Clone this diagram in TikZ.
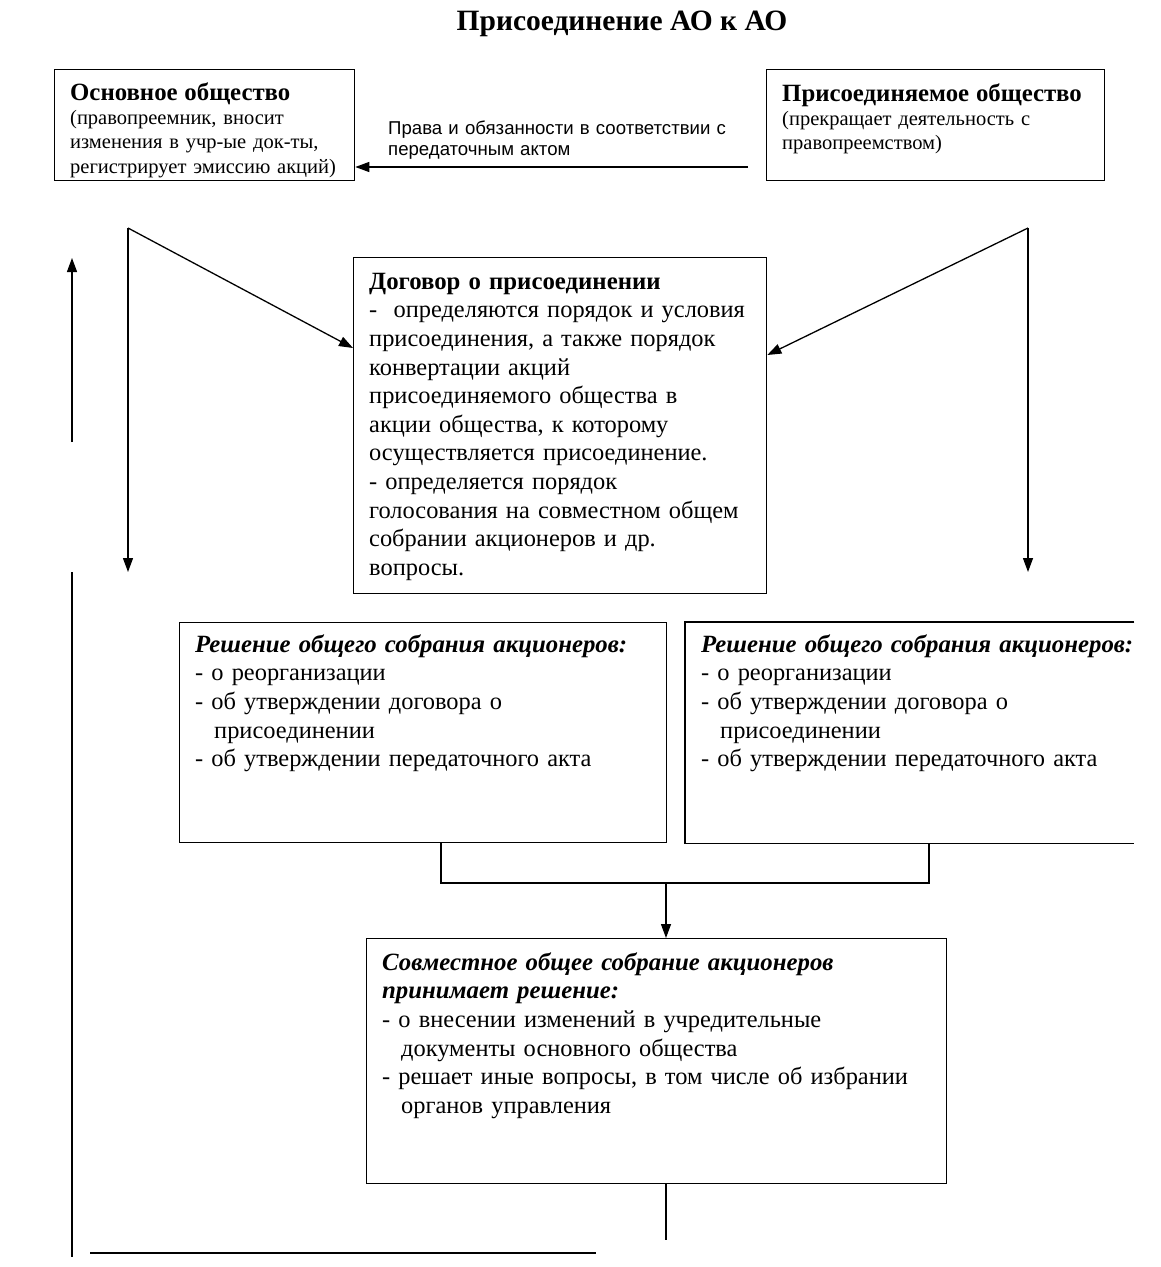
\documentclass[tikz,border=0pt]{standalone}
\usepackage{fontspec}
\setmainfont{Liberation Serif}
\setsansfont{Liberation Sans}
\usetikzlibrary{arrows.meta,calc}
\newcommand\mystrut{\rule{0pt}{20pt}}
\newcommand\hd[1]{{\fontsize{24.8}{28.6}\selectfont\bfseries #1}}
\begin{document}
\begin{tikzpicture}[x=1pt,y=-1pt,
  box/.style={draw, line width=1.3pt, inner sep=0pt, anchor=north west},
  conn/.style={line width=1.3pt},
  arr/.style={conn, -{Triangle[length=14pt,width=10pt]}},
  txt/.style={inner sep=0pt, anchor=north west, align=left, text width=#1,
    font=\fontsize{24.4}{28.6}\selectfont},
  small/.style={inner sep=0pt, anchor=north west, align=left, text width=#1,
    font=\fontsize{20.5}{24.3}\selectfont},
  lab/.style={inner sep=0pt, anchor=north west, align=left, text width=#1,
    font=\sffamily\fontsize{18.6}{21}\selectfont}
]
\useasboundingbox (0,0) rectangle (1160,1267);

% title
\node[inner sep=0pt, anchor=base, font=\bfseries\fontsize{29.5}{32}\selectfont] (title) at (622,30) {Присоединение АО к АО};

% top boxes
\node[box, minimum width=300pt, minimum height=111pt] (b1) at (54,69) {};
\node[box, minimum width=338pt, minimum height=111pt] (b2) at (766,69) {};
\begin{scope}
\clip (b1.north west) rectangle (b1.south east);
\node[small=285pt] (t1) at (70,80) {\mystrut{\fontsize{24.8}{24.3}\selectfont\bfseries Основное общество}\\
(правопреемник, вносит\\
изменения в учр-ые док-ты,\\
регистрирует эмиссию акций)};
\end{scope}
\node[small=320pt] (t2) at (782,81) {\mystrut{\fontsize{24.8}{24.3}\selectfont\bfseries Присоединяемое общество}\\
(прекращает деятельность с\\
правопреемством)};

% transfer arrow
\coordinate (a0) at (748,167);
\draw[arr] (a0) -- (a0 -| b1.east);
\node[lab=370pt] (lab1) at (388,117) {\rule{0pt}{17pt}Права и обязанности в соответствии с\\
передаточным актом};

% contract box
\node[box, minimum width=413pt, minimum height=336pt] (b3) at (353,257) {};
\node[txt=400pt] (t3) at (369,269) {\mystrut\hd{Договор о присоединении}\\
-\ \ определяются порядок и условия\\
присоединения, а также порядок\\
конвертации акций\\
присоединяемого общества в\\
акции общества, к которому\\
осуществляется присоединение.\\
- определяется порядок\\
голосования на совместном общем\\
собрании акционеров и др.\\
вопросы.};

% arrows from top
\coordinate (lt) at (128,228);
\coordinate (rt) at (1028,228);
\coordinate (ld) at (128,572);
\coordinate (rd) at (1028,572);
\draw[arr] (lt) -- ($(b3.north west)+(0,91)$);
\draw[arr] (rt) -- ($(b3.north east)+(0,98)$);
\draw[arr] (lt) -- (ld);
\draw[arr] (rt) -- (rd);

% left side lines
\coordinate (lu1) at (72,442);
\coordinate (lu2) at (72,258);
\draw[arr] (lu1) -- (lu2);
\coordinate (lv1) at (72,572);
\coordinate (lv2) at (72,1257);
\draw[conn] (lv1) -- (lv2);
\coordinate (bl1) at (90,1253);
\coordinate (bl2) at (596,1253);
\draw[conn] (bl1) -- (bl2);

% decision boxes
\node[box, minimum width=487pt, minimum height=220pt] (b4l) at (179,622) {};
\node[box, draw=none, minimum width=448pt, minimum height=220pt] (b4r) at (685,622) {};
\draw[conn] (b4r.north east) -- (b4r.north west) -- (b4r.south west) -- (b4r.south east);
\node[txt=470pt] (t4l) at (195,632) {\mystrut\hd{\itshape Решение общего собрания акционеров:}\\
- о реорганизации\\
- об утверждении договора о\\
\hspace*{19pt}присоединении\\
- об утверждении передаточного акта};
\node[txt=445pt] (t4r) at (701,632) {\mystrut\hd{\itshape Решение общего собрания акционеров:}\\
- о реорганизации\\
- об утверждении договора о\\
\hspace*{19pt}присоединении\\
- об утверждении передаточного акта};

% joining connector
\coordinate (p1) at ($(b4l.south west)+(262,0)$);
\coordinate (p2) at ($(b4r.south west)+(244,0)$);
\coordinate (j) at (666,883);
\draw[conn] (p1) -- (p1 |- j) -- (p2 |- j) -- (p2);

% joint meeting box
\node[box, minimum width=580pt, minimum height=245pt] (b5) at (366,938) {};
\draw[arr] (j) -- (j |- b5.north);
\node[txt=570pt] (t5) at (382,950) {\mystrut\hd{\itshape Совместное общее собрание акционеров}\\
\hd{\itshape принимает решение:}\\
- о внесении изменений в учредительные\\
\hspace*{19pt}документы основного общества\\
- решает иные вопросы, в том числе об избрании\\
\hspace*{19pt}органов управления};

\coordinate (q1) at (j |- b5.south);
\coordinate (q2) at (666,1240);
\draw[conn] (q1) -- (q2);
\end{tikzpicture}
\end{document}
